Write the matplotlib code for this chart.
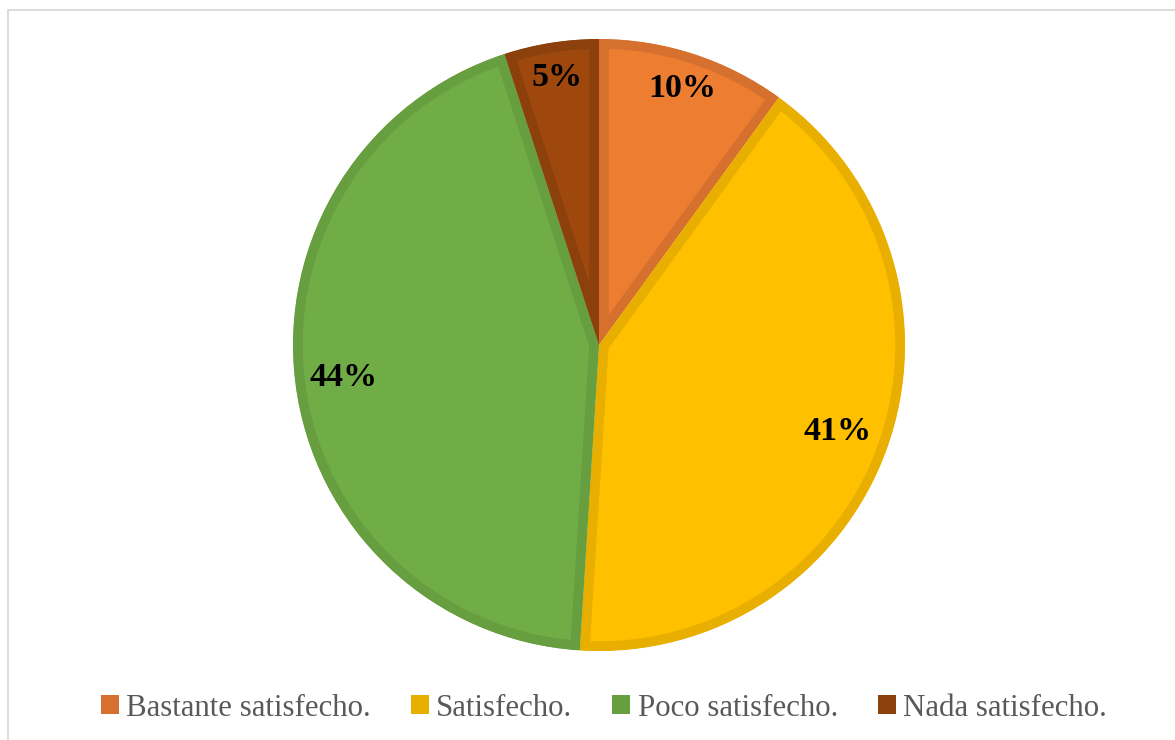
import matplotlib.pyplot as plt
import numpy as np
from matplotlib.patches import Patch, Rectangle

# survey answers and their share of responses
categories = ['Bastante satisfecho.', 'Satisfecho.', 'Poco satisfecho.', 'Nada satisfecho.']
percentages = [10, 41, 44, 5]

fill_colors = ['#ED7D31', '#FFC000', '#70AD47', '#9E480E']
edge_colors = ['#D6702E', '#E8AE00', '#669E40', '#8C400C']
label_dist = [0.88, 0.83, 0.84, 0.885]

plt.rcParams['font.family'] = ['Liberation Serif', 'DejaVu Serif']

fig = plt.figure(figsize=(11.75, 7.4), dpi=100)
ax = fig.add_axes([293 / 1175, 89 / 740, 612 / 1175, 612 / 740])

wedges, _ = ax.pie(percentages, colors=fill_colors, startangle=90,
                   counterclock=False, radius=1)

# give every slice a darker border that stays inside the slice
for w, ec in zip(wedges, edge_colors):
    w.set_edgecolor(ec)
    w.set_linewidth(14)
    w.set_joinstyle('round')
    w.set_clip_on(True)
    w.set_clip_path(w.get_path(), w.get_transform())

# percentage labels placed along each slice's middle angle
for w, pct, d in zip(wedges, percentages, label_dist):
    mid = np.deg2rad((w.theta1 + w.theta2) / 2)
    ax.text(d * np.cos(mid), d * np.sin(mid), f'{pct}%', ha='center', va='center',
            fontsize=24.5, fontweight='bold', color='black')

ax.set_xlim(-1, 1)
ax.set_ylim(-1, 1)
ax.set_aspect('equal')
ax.axis('off')

handles = [Patch(facecolor=c, edgecolor='none') for c in edge_colors]
fig.legend(handles, categories, loc='center', ncol=4, frameon=False,
           bbox_to_anchor=(604 / 1175, 1 - 708 / 740), fontsize=22.2,
           labelcolor='#595959', handlelength=0.57, handleheight=0.57,
           handletextpad=0.25, columnspacing=1.3)

# light chart frame
fig.patches.append(Rectangle((8 / 1175, -0.1), 1.2, 1.1 - 10 / 740,
                             transform=fig.transFigure, fill=False,
                             edgecolor='#D9D9D9', linewidth=1.3))

fig.savefig('out.png', dpi=100, facecolor='white')
